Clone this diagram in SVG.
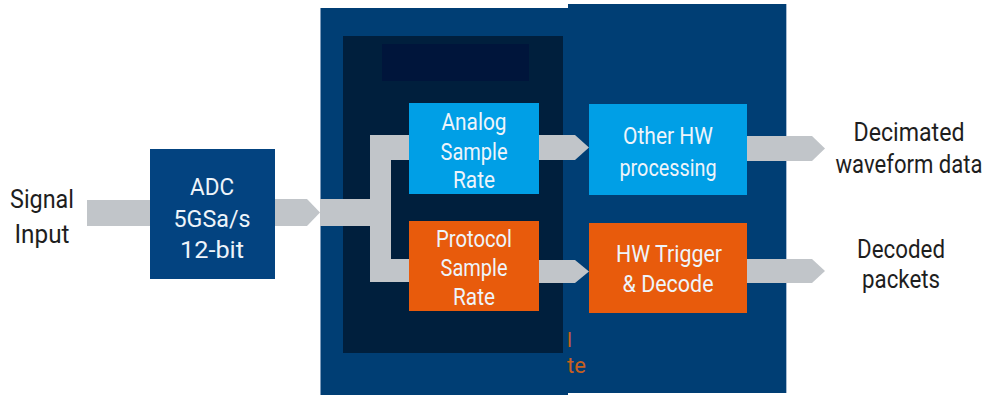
<svg xmlns="http://www.w3.org/2000/svg" width="991" height="395" viewBox="0 0 991 395">
<style>
.t{font-family:Roboto,"Liberation Sans",sans-serif;text-anchor:middle}
.w{fill:#eef4fa;font-size:24px}
.k{fill:#1e1e1e;font-size:25px}
.conn{fill:#c1c5c9}
</style>
<rect width="991" height="395" fill="#ffffff"/>
<g id="fpga-panel">
<rect x="320" y="8" width="248" height="387" fill="#003e74"/>
<rect x="568" y="4" width="219" height="389" fill="#003e74"/>
<rect x="320" y="8" width="1" height="387" fill="#7d9bbb"/>
<rect x="786" y="4" width="1" height="389" fill="#a8bcd2"/>
<rect x="343" y="36" width="220" height="317" fill="#001f3d"/>
<rect x="382" y="44" width="147" height="37" fill="#00153b"/>
<text x="567" y="347" fill="#c8601e" style="font-family:Roboto,sans-serif;font-size:20px">l</text>
<text x="567" y="373" fill="#c8601e" style="font-family:Roboto,sans-serif;font-size:22px">te</text>
</g>
<g id="connectors">
<rect class="conn" x="87" y="200" width="63" height="26"/>
<polygon class="conn" points="275,199 307,199 320,212.5 307,226 275,226"/>
<polygon class="conn" points="320,199 370,199 370,135 409,135 409,160 391,160 391,259 409,259 409,282 370,282 370,226 320,226"/>
<polygon class="conn" points="539,135 575,135 589,147.5 575,160 539,160"/>
<polygon class="conn" points="539,260 575,260 589,271.5 575,283 539,283"/>
<polygon class="conn" points="747,136 812,136 825,148.5 812,161 747,161"/>
<polygon class="conn" points="747,259 812,259 825,271 812,283 747,283"/>
</g>
<g id="signal-input">
<text class="t k" x="42" y="208" textLength="64" lengthAdjust="spacingAndGlyphs">Signal</text>
<text class="t k" x="42" y="243" textLength="55" lengthAdjust="spacingAndGlyphs">Input</text>
</g>
<g id="adc">
<rect x="150" y="149" width="125" height="130" fill="#034380"/>
<text class="t w" x="212" y="195" textLength="44" lengthAdjust="spacingAndGlyphs">ADC</text>
<text class="t w" x="212" y="227" textLength="77" lengthAdjust="spacingAndGlyphs">5GSa/s</text>
<text class="t w" x="212" y="258" textLength="64" lengthAdjust="spacingAndGlyphs">12-bit</text>
</g>
<g id="analog-sample-rate">
<rect x="409" y="103" width="130" height="91" fill="#009fe6"/>
<text class="t w" x="474" y="130" textLength="65" lengthAdjust="spacingAndGlyphs">Analog</text>
<text class="t w" x="474" y="160" textLength="67" lengthAdjust="spacingAndGlyphs">Sample</text>
<text class="t w" x="474" y="188" textLength="42" lengthAdjust="spacingAndGlyphs">Rate</text>
</g>
<g id="protocol-sample-rate">
<rect x="409" y="221" width="130" height="90" fill="#e85b0c"/>
<text class="t w" x="474" y="247" textLength="76" lengthAdjust="spacingAndGlyphs">Protocol</text>
<text class="t w" x="474" y="276" textLength="67" lengthAdjust="spacingAndGlyphs">Sample</text>
<text class="t w" x="474" y="305" textLength="42" lengthAdjust="spacingAndGlyphs">Rate</text>
</g>
<g id="other-hw-processing">
<rect x="589" y="104" width="158" height="91" fill="#009fe6"/>
<text class="t w" x="668" y="144" textLength="90" lengthAdjust="spacingAndGlyphs">Other HW</text>
<text class="t w" x="668" y="176" textLength="97" lengthAdjust="spacingAndGlyphs">processing</text>
</g>
<g id="hw-trigger-decode">
<rect x="589" y="223" width="158" height="90" fill="#e85b0c"/>
<text class="t w" x="669" y="262" textLength="106" lengthAdjust="spacingAndGlyphs">HW Trigger</text>
<text class="t w" x="668" y="292" textLength="91" lengthAdjust="spacingAndGlyphs">&amp; Decode</text>
</g>
<g id="decimated-waveform-data">
<text class="t k" x="909" y="141" textLength="111" lengthAdjust="spacingAndGlyphs">Decimated</text>
<text class="t k" x="909" y="173" textLength="147" lengthAdjust="spacingAndGlyphs">waveform data</text>
</g>
<g id="decoded-packets">
<text class="t k" x="901" y="258" textLength="88" lengthAdjust="spacingAndGlyphs">Decoded</text>
<text class="t k" x="901" y="288" textLength="78" lengthAdjust="spacingAndGlyphs">packets</text>
</g>
</svg>
